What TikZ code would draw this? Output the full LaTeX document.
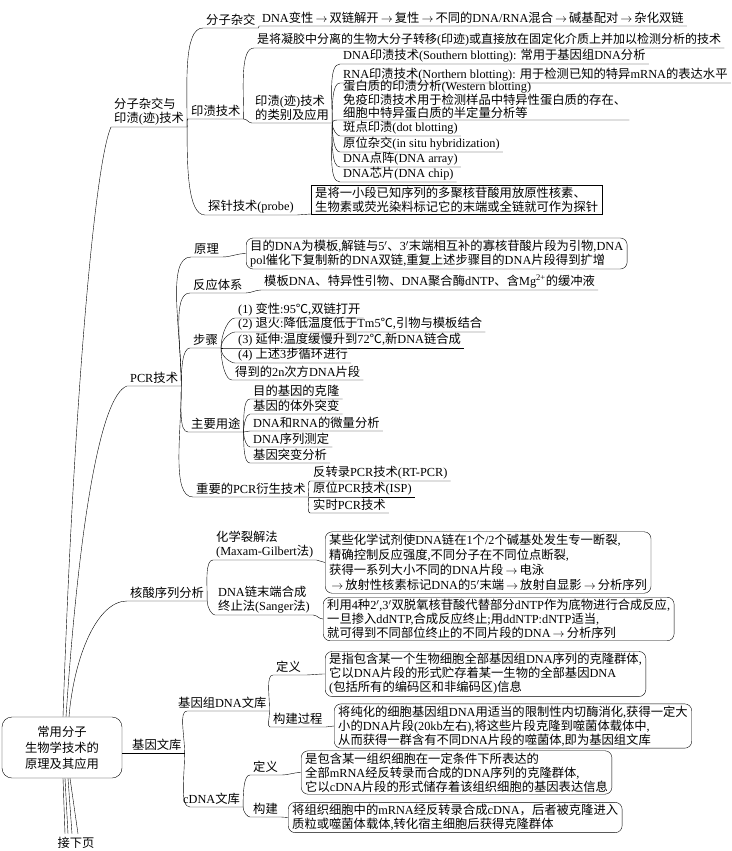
\documentclass[tikz,border=0pt]{standalone}
\usepackage{fontspec}
\setmainfont{Noto Sans CJK SC}
\newfontfamily\zhongwen{Noto Sans CJK SC}
\newfontfamily\xiwen{Liberation Serif}
% 中西文自动切换: 汉字与全角符号归入第1类
\newcommand{\shezhi}[2]{\count255=#1 \loop\XeTeXcharclass\count255=1 \advance\count255 by 1 \ifnum\count255<#2 \repeat}
\shezhi{"4E00}{"A000}
\shezhi{"3000}{"3040}
\shezhi{"FF00}{"FFF0}
\shezhi{"2103}{"2104}
\XeTeXinterchartokenstate=1
\XeTeXinterchartoks 0 1 = {\zhongwen}
\XeTeXinterchartoks 1 0 = {\xiwen}
\XeTeXinterchartoks 4095 0 = {\xiwen}
\XeTeXinterchartoks 4095 1 = {\zhongwen}
\newcommand{\jt}{\,$\rightarrow$\,}

\begin{document}
\begin{tikzpicture}[x=1pt,y=-1pt,
  every node/.style={font=\fontsize{12.3}{14}\selectfont},
  biaoqian/.style={anchor=south west, align=left, inner xsep=3pt, inner ysep=2pt},
  kuang/.style={draw, rounded corners=7pt, anchor=west, align=left, inner xsep=4pt, inner ysep=2pt},
  fangkuang/.style={draw, anchor=south west, align=left, inner xsep=4pt, inner ysep=1.5pt},
  genjie/.style={draw, rounded corners=10pt, align=center, minimum width=120pt, minimum height=61pt, font=\fontsize{12.3}{16}\selectfont},
  shang/.style={out=90, in=180, out looseness=1.1, in looseness=0.5},
  xia/.style={out=-90, in=180, out looseness=1.1, in looseness=0.5},
  ping/.style={out=0, in=180}]
\useasboundingbox (0,0) rectangle (731,851);

% 根节点
\node[genjie] (gen) at (62,747.5) {常用分子\\生物学技术的\\原理及其应用};
\node (jxy) at (76,843) {接下页};

% 分子杂交与印渍技术
\node[biaoqian] (fzjh) at (111,127) {分子杂交与\\印渍(迹)技术};
\node[biaoqian] (fzzj) at (203,28) {分子杂交};
\node[biaoqian] (zjlian) at (259,26) {DNA变性\jt 双链解开\jt 复性\jt 不同的DNA/RNA混合\jt 碱基配对\jt 杂化双链};
\node[biaoqian] (yzjs) at (188,119) {印渍技术};
\node[biaoqian, font=\fontsize{12}{14}\selectfont] (yzdy) at (254,48) {是将凝胶中分离的生物大分子转移(印迹)或直接放在固定化介质上并加以检测分析的技术};
\node[biaoqian] (yzlb) at (252,123) {印渍(迹)技术\\的类别及应用};
\node[biaoqian] (nan) at (340,64) {DNA印渍技术(Southern blotting): 常用于基因组DNA分析};
\node[biaoqian] (bei) at (340,83) {RNA印渍技术(Northern blotting): 用于检测已知的特异mRNA的表达水平};
\node[biaoqian, font=\fontsize{12.3}{12.8}\selectfont, inner ysep=1pt] (xi) at (340,120) {蛋白质的印渍分析(Western blotting)\\免疫印渍技术用于检测样品中特异性蛋白质的存在、\\细胞中特异蛋白质的半定量分析等};
\node[biaoqian] (bandian) at (340,136) {斑点印渍(dot blotting)};
\node[biaoqian] (yuanwei) at (340,152) {原位杂交(in situ hybridization)};
\node[biaoqian] (dianzhen) at (340,167) {DNA点阵(DNA array)};
\node[biaoqian] (xinpian) at (340,182) {DNA芯片(DNA chip)};
\node[biaoqian] (tanzhen) at (205,215) {探针技术(probe)};
\node[fangkuang] (tzkuang) at (311,214) {是将一小段已知序列的多聚核苷酸用放原性核素、\\生物素或荧光染料标记它的末端或全链就可作为探针};

% PCR技术
\node[biaoqian] (pcr) at (127,386) {PCR技术};
\node[biaoqian] (yuanli) at (191,257) {原理};
\node[kuang] (ylkuang) at (246,253.5) {目的DNA为模板,解链与5$'$、3$'$末端相互补的寡核苷酸片段为引物,DNA\\pol催化下复制新的DNA双链,重复上述步骤目的DNA片段得到扩增};
\node[biaoqian] (tixi) at (190,293) {反应体系};
\node[biaoqian] (tixinr) at (261,290) {模板DNA、特异性引物、DNA聚合酶dNTP、含Mg\textsuperscript{2+}的缓冲液};
\node[biaoqian] (buzhou) at (190,348) {步骤};
\node[biaoqian] (bz1) at (235,318) {(1) 变性:95℃,双链打开};
\node[biaoqian] (bz2) at (235,332) {(2) 退火:降低温度低于Tm5℃,引物与模板结合};
\node[biaoqian] (bz3) at (235,348) {(3) 延伸:温度缓慢升到72℃,新DNA链合成};
\node[biaoqian] (bz4) at (235,363) {(4) 上述3步循环进行};
\node[biaoqian] (bz5) at (232,380) {得到的2n次方DNA片段};
\node[biaoqian] (yongtu) at (188,432) {主要用途};
\node[biaoqian] (yt1) at (250,399) {目的基因的克隆};
\node[biaoqian] (yt2) at (250,414) {基因的体外突变};
\node[biaoqian] (yt3) at (250,431) {DNA和RNA的微量分析};
\node[biaoqian] (yt4) at (250,447) {DNA序列测定};
\node[biaoqian] (yt5) at (250,463) {基因突变分析};
\node[biaoqian] (yansheng) at (193,497) {重要的PCR衍生技术};
\node[biaoqian] (ys1) at (310,481) {反转录PCR技术(RT-PCR)};
\node[biaoqian] (ys2) at (310,497) {原位PCR技术(ISP)};
\node[biaoqian] (ys3) at (310,513) {实时PCR技术};

% 核酸序列分析
\node[biaoqian] (hesuan) at (127,601) {核酸序列分析};
\node[biaoqian] (huaxue) at (213,560) {化学裂解法\\(Maxam-Gilbert法)};
\node[kuang, font=\fontsize{12.3}{15}\selectfont, inner ysep=2.5pt] (hxkuang) at (325,562.5) {某些化学试剂使DNA链在1个/2个碱基处发生专一断裂,\\精确控制反应强度,不同分子在不同位点断裂,\\获得一系列大小不同的DNA片段\jt 电泳\\\jt 放射性核素标记DNA的5$'$末端\jt 放射自显影\jt 分析序列};
\node[biaoqian] (zhongzhi) at (215,615) {DNA链末端合成\\终止法(Sanger法)};
\node[kuang] (zzkuang) at (323,619) {利用4种2$'$,3$'$双脱氧核苷酸代替部分dNTP作为底物进行合成反应,\\一旦掺入ddNTP,合成反应终止;用ddNTP:dNTP适当,\\就可得到不同部位终止的不同片段的DNA\jt 分析序列};

% 基因文库
\node[biaoqian] (wenku) at (129,753) {基因文库};
\node[biaoqian] (jyz) at (175,711) {基因组DNA文库};
\node[biaoqian] (dingyi1) at (273,675) {定义};
\node[kuang] (dy1kuang) at (325,674) {是指包含某一个生物细胞全部基因组DNA序列的克隆群体,\\它以DNA片段的形式贮存着某一生物的全部基因DNA\\(包括所有的编码区和非编码区)信息};
\node[biaoqian] (goujian1) at (270,727) {构建过程};
\node[kuang] (gj1kuang) at (334,726) {将纯化的细胞基因组DNA用适当的限制性内切酶消化,获得一定大\\小的DNA片段(20kb左右),将这些片段克隆到噬菌体载体中,\\从而获得一群含有不同DNA片段的噬菌体,即为基因组文库};
\node[biaoqian] (cdna) at (180,807) {cDNA文库};
\node[biaoqian] (dingyi2) at (250,775) {定义};
\node[kuang] (dy2kuang) at (301,772.5) {是包含某一组织细胞在一定条件下所表达的\\全部mRNA经反转录而合成的DNA序列的克隆群体,\\它以cDNA片段的形式储存着该组织细胞的基因表达信息};
\node[biaoqian] (goujian2) at (250,817) {构建};
\node[kuang] (gj2kuang) at (288,817.5) {将组织细胞中的mRNA经反转录合成cDNA，后者被克隆进入\\质粒或噬菌体载体,转化宿主细胞后获得克隆群体};

% 连线
\draw ([xshift=1pt]gen.north) .. controls +(10,-300) and +(-17,38) .. (fzjh.south west) -- (fzjh.south east);
\draw ([xshift=4pt]gen.north) .. controls +(12,-180) and +(-28,10) .. (pcr.south west) -- (pcr.south east);
\draw ([xshift=7pt]gen.north) .. controls +(5,-60) and +(-30,0) .. (hesuan.south west) -- (hesuan.south east);
\draw (gen.east |- wenku.south) -- (wenku.south east);
\draw ([xshift=1pt]gen.south) -- ([xshift=-11pt]jxy.north);
\draw ([xshift=3pt]gen.south) -- ([xshift=-8pt]jxy.north);
\draw ([xshift=6pt]gen.south) -- ([xshift=-4pt]jxy.north);
\draw ([xshift=8pt]gen.south) -- ([xshift=2pt]jxy.north);

\draw (fzjh.south east) to[shang] (fzzj.south west) -- (fzzj.south east) to[ping] (zjlian.south west) -- (zjlian.south east);
\draw (fzjh.south east) to[shang] (yzjs.south west) -- (yzjs.south east);
\draw (fzjh.south east) to[xia] (tanzhen.south west) -- (tanzhen.south east) -- (tzkuang.south west);
\draw (yzjs.south east) to[shang] (yzdy.south west) -- (yzdy.south east);
\draw (yzjs.south east) to[ping] (yzlb.south west) -- (yzlb.south east);
\draw (yzlb.south east) to[shang] (nan.south west) -- (nan.south east);
\draw (yzlb.south east) to[shang] (bei.south west) -- (bei.south east);
\draw (yzlb.south east) to[shang] (xi.south west) -- (xi.south east);
\draw (yzlb.south east) to[xia] (bandian.south west) -- (bandian.south east);
\draw (yzlb.south east) to[xia] (yuanwei.south west) -- (yuanwei.south east);
\draw (yzlb.south east) to[xia] (dianzhen.south west) -- (dianzhen.south east);
\draw (yzlb.south east) to[xia] (xinpian.south west) -- (xinpian.south east);

\draw (pcr.south east) to[shang] (yuanli.south west) -- (yuanli.south east) to[ping] (ylkuang.west);
\draw (pcr.south east) to[shang] (tixi.south west) -- (tixi.south east) to[ping] (tixinr.south west) -- (tixinr.south east);
\draw (pcr.south east) to[shang] (buzhou.south west) -- (buzhou.south east);
\draw (pcr.south east) to[xia] (yongtu.south west) -- (yongtu.south east);
\draw (pcr.south east) to[xia] (yansheng.south west) -- (yansheng.south east);
\draw (buzhou.south east) to[shang] (bz1.south west) -- (bz1.south east);
\draw (buzhou.south east) to[shang] (bz2.south west) -- (bz2.south east);
\draw (buzhou.south east) to[ping] (bz3.south west) -- (bz3.south east);
\draw (buzhou.south east) to[xia] (bz4.south west) -- (bz4.south east);
\draw (buzhou.south east) to[xia] (bz5.south west) -- (bz5.south east);
\draw (yongtu.south east) to[shang] (yt1.south west) -- (yt1.south east);
\draw (yongtu.south east) to[shang] (yt2.south west) -- (yt2.south east);
\draw (yongtu.south east) to[ping] (yt3.south west) -- (yt3.south east);
\draw (yongtu.south east) to[xia] (yt4.south west) -- (yt4.south east);
\draw (yongtu.south east) to[xia] (yt5.south west) -- (yt5.south east);
\draw (yansheng.south east) to[shang] (ys1.south west) -- (ys1.south east);
\draw (yansheng.south east) to[ping] (ys2.south west) -- (ys2.south east);
\draw (yansheng.south east) to[xia] (ys3.south west) -- (ys3.south east);

\draw (hesuan.south east) to[shang] (huaxue.south west) -- (huaxue.south east) to[ping] (hxkuang.west);
\draw (hesuan.south east) to[xia] (zhongzhi.south west) -- (zhongzhi.south east) to[ping] (zzkuang.west);

\draw (wenku.south east) to[shang] ([xshift=12pt]jyz.south west) -- (jyz.south east);
\draw (wenku.south east) to[xia] ([xshift=10pt]cdna.south west) -- (cdna.south east);
\draw (jyz.south east) to[shang] (dingyi1.south west) -- (dingyi1.south east) to[ping] (dy1kuang.west);
\draw (jyz.south east) to[xia] (goujian1.south west) -- (goujian1.south east) to[ping] (gj1kuang.west);
\draw (cdna.south east) to[shang] (dingyi2.south west) -- (dingyi2.south east) to[ping] (dy2kuang.west);
\draw (cdna.south east) to[xia] (goujian2.south west) -- (goujian2.south east) to[ping] (gj2kuang.west);
\end{tikzpicture}
\end{document}
